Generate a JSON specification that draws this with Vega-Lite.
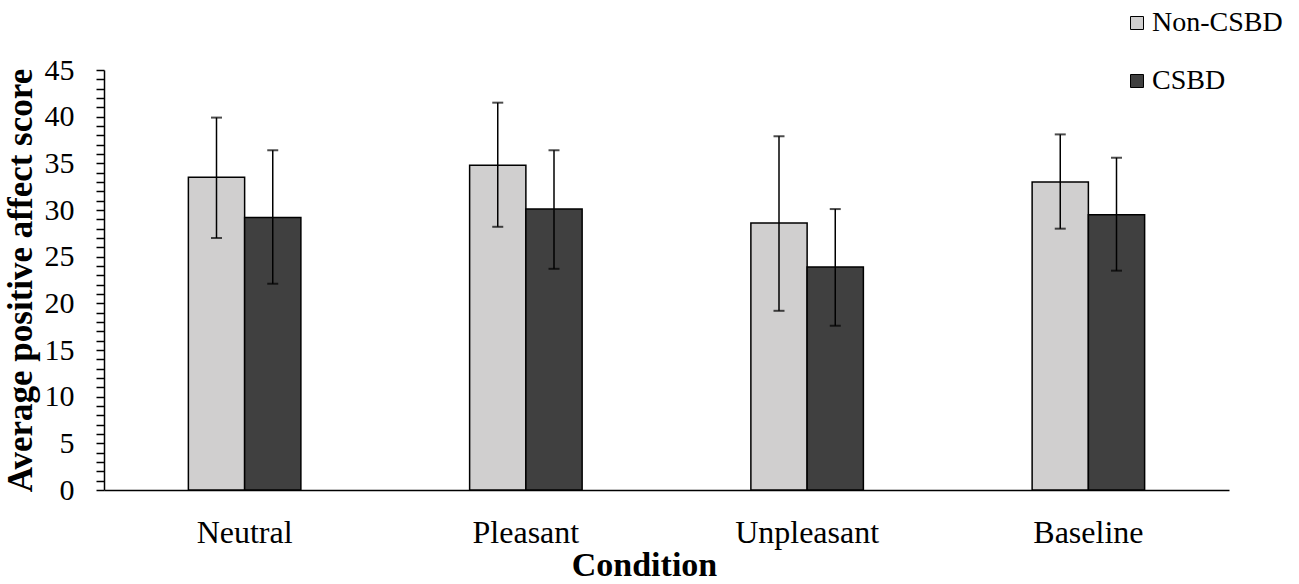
{
  "$schema": "https://vega.github.io/schema/vega-lite/v6.json",
  "width": 1125,
  "height": 420,
  "autosize": "none",
  "padding": {"left": 104, "top": 70, "right": 70, "bottom": 94},
  "background": "white",
  "config": {
    "font": "Liberation Serif",
    "view": {"stroke": null},
    "axis": {
      "domainColor": "black",
      "domainWidth": 1.5,
      "tickColor": "black",
      "tickWidth": 1.5,
      "grid": false,
      "labelColor": "black",
      "titleColor": "black",
      "labelFont": "Liberation Serif",
      "titleFont": "Liberation Serif"
    },
    "legend": {"labelFont": "Liberation Serif", "padding": 0}
  },
  "data": {
    "values": [
      {"condition": "Neutral", "group": "Non-CSBD", "mean": 33.5, "lo": 27.0, "hi": 39.9},
      {"condition": "Neutral", "group": "CSBD", "mean": 29.2, "lo": 22.1, "hi": 36.4},
      {"condition": "Pleasant", "group": "Non-CSBD", "mean": 34.8, "lo": 28.2, "hi": 41.5},
      {"condition": "Pleasant", "group": "CSBD", "mean": 30.1, "lo": 23.7, "hi": 36.4},
      {"condition": "Unpleasant", "group": "Non-CSBD", "mean": 28.6, "lo": 19.2, "hi": 37.9},
      {"condition": "Unpleasant", "group": "CSBD", "mean": 23.9, "lo": 17.6, "hi": 30.1},
      {"condition": "Baseline", "group": "Non-CSBD", "mean": 33.0, "lo": 28.0, "hi": 38.1},
      {"condition": "Baseline", "group": "CSBD", "mean": 29.5, "lo": 23.5, "hi": 35.6}
    ]
  },
  "encoding": {
    "x": {
      "field": "condition",
      "type": "nominal",
      "sort": ["Neutral", "Pleasant", "Unpleasant", "Baseline"],
      "scale": {"paddingInner": 0.6, "paddingOuter": 0.3},
      "axis": {
        "title": "Condition",
        "labelAngle": 0,
        "labelFontSize": 32,
        "labelPadding": 27,
        "ticks": false,
        "titleFontSize": 34,
        "titleFontWeight": "bold",
        "titlePadding": 0,
        "titleX": 540
      }
    },
    "xOffset": {"field": "group", "type": "nominal", "sort": ["Non-CSBD", "CSBD"], "scale": {"paddingInner": 0, "paddingOuter": 0}}
  },
  "layer": [
    {
      "mark": {"type": "bar", "stroke": "black", "strokeWidth": 1.5},
      "encoding": {
        "y": {
          "field": "mean",
          "type": "quantitative",
          "scale": {"domain": [0, 45], "nice": false},
          "axis": {
            "title": "Average positive affect score",
            "values": [0,1,2,3,4,5,6,7,8,9,10,11,12,13,14,15,16,17,18,19,20,21,22,23,24,25,26,27,28,29,30,31,32,33,34,35,36,37,38,39,40,41,42,43,44,45],
            "tickCount": 100,
            "format": "d",
            "labelExpr": "datum.value % 5 === 0 ? datum.label : ''",
            "labelFont": "Liberation Serif",
            "titleFont": "Liberation Serif",
            "tickSize": 8,
            "labelFontSize": 30,
            "labelPadding": 22,
            "labelBound": false,
            "labelOverlap": false,
            "titleFontSize": 35,
            "titleFontWeight": "bold",
            "titlePadding": 6
          }
        },
        "color": {
          "field": "group",
          "type": "nominal",
          "scale": {"domain": ["Non-CSBD", "CSBD"], "range": ["#d0cfcf", "#404040"]},
          "legend": {
            "title": null,
            "orient": "none",
            "legendX": 1019,
            "legendY": -61,
            "symbolType": "square",
            "symbolSize": 169,
            "symbolStrokeColor": "black",
            "symbolStrokeWidth": 1,
            "labelFontSize": 28,
            "labelColor": "black",
            "labelOffset": 1,
            "rowPadding": 30
          }
        }
      }
    },
    {
      "mark": {"type": "rule", "color": "black", "strokeWidth": 1.5},
      "encoding": {
        "y": {"field": "lo", "type": "quantitative"},
        "y2": {"field": "hi"}
      }
    },
    {
      "mark": {"type": "tick", "color": "black", "thickness": 2, "size": 11},
      "encoding": {
        "y": {"field": "lo", "type": "quantitative"}
      }
    },
    {
      "mark": {"type": "tick", "color": "black", "thickness": 2, "size": 11},
      "encoding": {
        "y": {"field": "hi", "type": "quantitative"}
      }
    }
  ]
}
